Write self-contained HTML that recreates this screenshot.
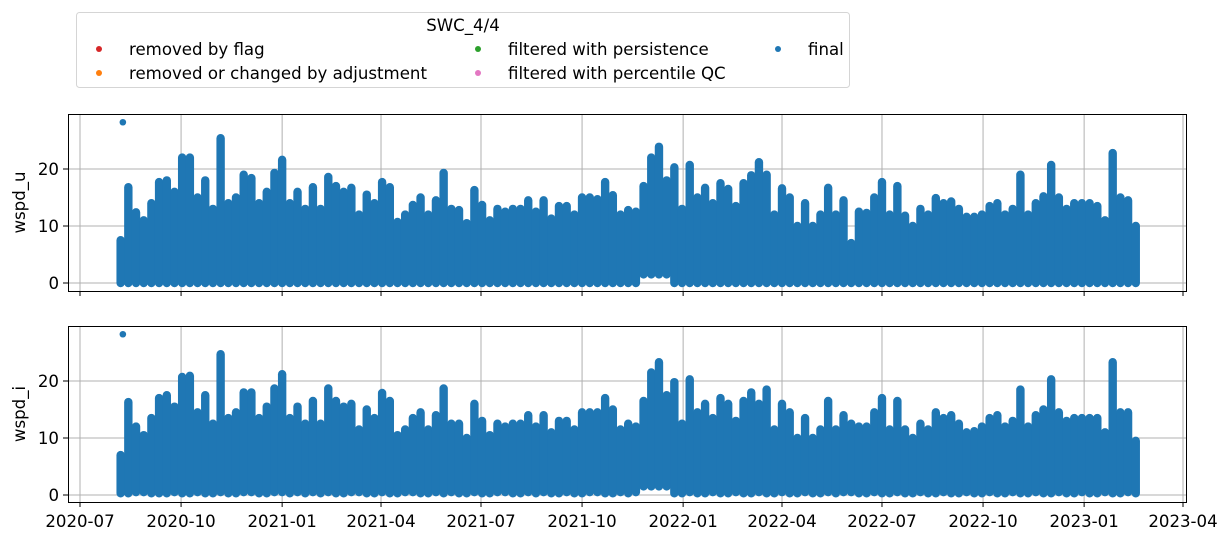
<!DOCTYPE html>
<html><head><meta charset="utf-8"><style>
body{margin:0;background:#fff;}
svg{display:block;font-family:"DejaVu Sans","Liberation Sans",sans-serif;}
</style></head><body>
<svg id="chart" width="1229" height="542" viewBox="0 0 1229 542">
<g>
<rect x="76.5" y="12.5" width="773" height="75" rx="3" fill="#fff" stroke="#d5d5d5"/>
<text x="463" y="31" font-size="16.6" text-anchor="middle">SWC_4/4</text>
<g><circle cx="99" cy="49" r="3" fill="#d62728"/><text x="129" y="55" font-size="16.6">removed by flag</text></g>
<g><circle cx="99" cy="73" r="3" fill="#ff7f0e"/><text x="129" y="79" font-size="16.6">removed or changed by adjustment</text></g>
<g><circle cx="478" cy="49" r="3" fill="#2ca02c"/><text x="508" y="55" font-size="16.6">filtered with persistence</text></g>
<g><circle cx="478" cy="73" r="3" fill="#e377c2"/><text x="508" y="79" font-size="16.6">filtered with percentile QC</text></g>
<g><circle cx="778" cy="49" r="3" fill="#1f77b4"/><text x="808" y="55" font-size="16.6">final</text></g>
</g>
<g id="panels"></g>
</svg>
<script>
const xTickLabels = ["2020-07","2020-10","2021-01","2021-04","2021-07","2021-10","2022-01","2022-04","2022-07","2022-10","2023-01","2023-04"];
const xTickDays = [0,92,184,274,365,457,549,639,730,822,914,1004];
const yTicks = [0,10,20];
const startDay = 37; // 2020-08-07, weekly samples
const wspdUMax = [7.5,16.8,12.4,11,14,17.7,18,16,22,22,15,18,13,25.4,14,15,19,18.4,14,16,19.3,21.6,14,16,13,16.8,13,18.6,17,16,16.7,12,15.5,14,17.7,16.8,10.7,12,13.7,15,12,14.5,19.3,13,12.8,10.5,16.3,13.7,11,13,12.5,13,13,14.5,12.5,14.5,11.3,13.5,13.5,12,15,15,14.7,17.7,15.4,12,12.8,12.5,17,22,23.9,18,20.3,13,20.7,15,16.7,14,17.5,16.5,13.5,17.5,18.9,21.2,19,12,16.6,15,10,14,10,12,16.7,12,14.5,7,12.5,12.3,15,17.7,12,17,11.8,10,13,12,14.9,14,14.3,13,11.6,11.6,12,13.5,14,12,13,19,12,14,15.2,20.7,15,13,14,14,14,13.5,11,22.8,15,14.5,10];
const wspdUMin = [0,0,0,0,0,0,0,0,0,0,0,0,0,0,0,0,0,0,0,0,0,0,0,0,0,0,0,0,0,0,0,0,0,0,0,0,0,0,0,0,0,0,0,0,0,0,0,0,0,0,0,0,0,0,0,0,0,0,0,0,0,0,0,0,0,0,0,0,1.5,1.5,1.5,1.5,0,0,0,0,0,0,0,0,0,0,0,0,0,0,0,0,0,0,0,0,0,0,0,0,0,0,0,0,0,0,0,0,0,0,0,0,0,0,0,0,0,0,0,0,0,0,0,0,0,0,0,0,0,0,0,0,0,0,0,0,0];
const wspdIMax = [7,16.3,12,10.5,13.5,17,17.5,15.5,20.7,20.9,14.5,17.5,12.5,24.7,13.5,14.5,18,18,13.5,15.5,18.7,21.2,13.5,15.5,12.5,16.5,12.5,18.7,16.5,15.5,16,11.5,15,13.5,17.9,16.5,10.5,11.5,13.5,14.5,11.5,14,18.7,12.5,12.5,10,16,13,10.5,12.5,12,12.5,12.5,14,12,14,11,13,13,11.5,14.5,14.5,14.5,17,15,11.5,12.5,12,16.5,21.5,23.3,17.5,19.8,12.5,20.3,14.5,16,13.5,17,16,13,16.5,18,16,18.5,11.5,16,14.5,10,13.5,10,11.5,16.5,11.5,14,12.5,12,12,14.5,17,11.5,16.5,11.5,10,12.5,11.5,14.5,13.5,14,12.5,11,11.2,12,13.5,14,12,13,18.5,12,14,15,20.3,14.5,13,13.5,13.5,13.5,13.5,11,23.3,14.5,14.5,9.5];
const wspdIMin = [0.3,0.3,0.5,0.5,0.3,0.3,0.3,0.5,0.3,0.3,0.5,0.3,0.3,0.5,0.3,0.3,0.5,0.5,0.3,0.3,0.5,0.5,0.3,0.5,0.3,0.5,0.3,0.5,0.3,0.3,0.5,0.5,0.3,0.3,0.5,0.3,0.3,0.5,0.5,0.3,0.3,0.5,0.3,0.5,0.3,0.3,0.5,0.3,0.3,0.5,0.5,0.3,0.3,0.5,0.3,0.5,0.3,0.3,0.5,0.3,0.3,0.5,0.5,0.3,0.3,0.5,0.3,0.5,1.5,1.5,1.5,1.5,0.3,0.3,0.5,0.3,0.3,0.5,0.3,0.3,0.5,0.3,0.3,0.5,0.3,0.3,0.5,0.3,0.3,0.5,0.3,0.3,0.5,0.3,0.5,0.5,0.3,0.3,0.5,0.3,0.3,0.5,0.3,0.3,0.5,0.3,0.3,0.5,0.3,0.3,0.5,0.3,0.3,0.5,0.3,0.3,0.5,0.3,0.3,0.5,0.3,0.3,0.5,0.3,0.3,0.5,0.3,0.3,0.5,0.3,0.3,0.5,0.3];
const outlierValue = 28.2;

const NS = "http://www.w3.org/2000/svg";
const root = document.getElementById("panels");
const X0 = 68, X1 = 1186;
function xScale(day){ return 80 + day * 1103 / 1004; }
function mk(tag, attrs, parent){ const e = document.createElementNS(NS, tag); for (const k in attrs) e.setAttribute(k, attrs[k]); parent.appendChild(e); return e; }

function panel(top, bottom, zeroY, label, maxArr, minArr, showLabels, key){
  const yScale = v => zeroY - v * 5.7;
  const g = mk("g", {}, root);
  
  
  xTickDays.forEach((d,i) => {
    const gl = mk("line", {x1:xScale(d), x2:xScale(d), y1:top, y2:bottom, stroke:"#b0b0b0", "stroke-width":1}, g);
    
    
    const tk = mk("line", {x1:xScale(d), x2:xScale(d), y1:bottom, y2:bottom+5, stroke:"#000", "stroke-width":1}, g);
    
    
    if (showLabels) {
      const t = mk("text", {x:xScale(d), y:bottom+25, "font-size":16.6, "text-anchor":"middle"}, g);
      t.textContent = xTickLabels[i];
      
      
    }
  });
  yTicks.forEach(v => {
    const gl = mk("line", {x1:X0, x2:X1, y1:yScale(v), y2:yScale(v), stroke:"#b0b0b0", "stroke-width":1}, g);
    
    
    const tk = mk("line", {x1:X0-5, x2:X0, y1:yScale(v), y2:yScale(v), stroke:"#000"}, g);
    
    
    const t = mk("text", {x:X0-9, y:yScale(v)+6, "font-size":16.6, "text-anchor":"end"}, g);
    t.textContent = v;
    
    
  });
  const yl = mk("text", {x:0, y:0, "font-size":16.6, "text-anchor":"middle", transform:`translate(25,${(top+bottom)/2}) rotate(-90)`}, g);
  yl.textContent = label;
  
  
  const clipG = mk("g", {}, g);
  
  
  maxArr.forEach((v,i) => {
    const x = xScale(startDay + i*7);
    const l = mk("line", {x1:x, x2:x, y1:yScale(minArr[i]||0), y2:yScale(v), stroke:"#1f77b4", "stroke-width":8.4, "stroke-linecap":"round"}, clipG);
    
    
  });
  const o = mk("circle", {cx:xScale(startDay+2), cy:yScale(outlierValue), r:3.3, fill:"#1f77b4"}, clipG);
  
  
  const fr = mk("rect", {x:X0+0.5, y:top+0.5, width:X1-X0, height:bottom-top, fill:"none", stroke:"#000", "stroke-width":1}, g);
  
  
}
panel(114, 291, 283, "wspd_u", wspdUMax, wspdUMin, false, "wspd-u");
panel(326, 502, 495, "wspd_i", wspdIMax, wspdIMin, true, "wspd-i");
</script>
</body></html>
